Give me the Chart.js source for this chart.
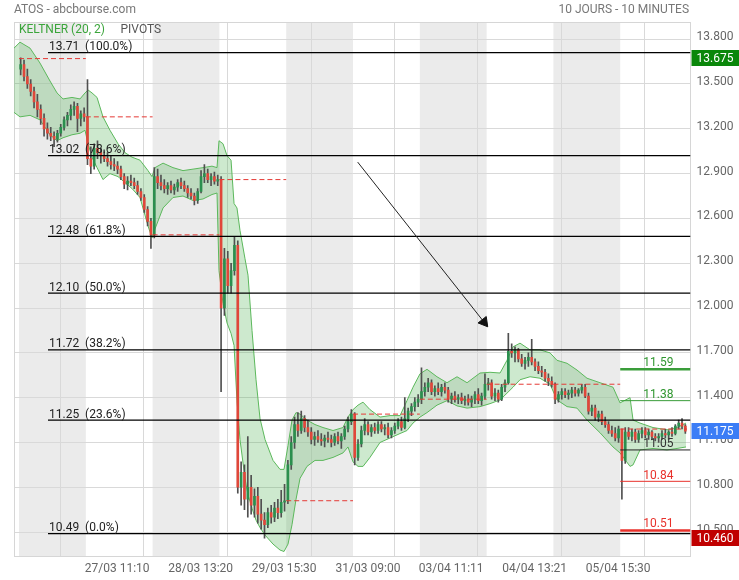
<!DOCTYPE html>
<html><head><meta charset="utf-8">
<script src="https://cdn.jsdelivr.net/npm/chart.js@4.4.1/dist/chart.umd.min.js"></script>
<style>html,body{margin:0;padding:0;background:#fff;}#c{display:block;}</style>
</head><body>
<canvas id="c" width="739" height="580"></canvas>
<script>
// ---------- DATA ----------
// 10 trading days, 20 candles per day
const dayLabels = ['24/03','27/03','28/03','29/03','30/03','31/03','03/04','04/04','05/04','06/04'];
const opens = [
13.60,13.63,13.55,13.50,13.45,13.38,13.33,13.27,13.20,13.17,13.15,13.13,13.17,13.21,13.26,13.29,13.33,13.35,13.27,13.30,
13.28,13.00,12.95,13.07,13.04,13.02,13.00,12.98,12.96,12.95,12.93,12.88,12.83,12.85,12.84,12.82,12.78,12.74,12.66,12.58,
12.49,12.88,12.84,12.82,12.80,12.82,12.79,12.81,12.84,12.82,12.80,12.77,12.75,12.72,12.78,12.88,12.90,12.86,12.88,12.85,
12.86,12.00,12.33,12.15,12.25,12.42,10.80,10.90,10.72,10.80,10.68,10.74,10.62,10.58,10.55,10.63,10.60,10.66,10.63,10.70,
10.71,10.95,11.10,11.22,11.18,11.26,11.20,11.17,11.12,11.14,11.12,11.11,11.13,11.12,11.10,11.14,11.11,11.14,11.19,11.24,
11.29,11.00,11.09,11.18,11.22,11.17,11.20,11.18,11.22,11.19,11.20,11.15,11.18,11.21,11.24,11.20,11.26,11.31,11.34,11.37,
11.39,11.44,11.47,11.50,11.44,11.46,11.44,11.47,11.45,11.39,11.41,11.39,11.40,11.38,11.39,11.37,11.39,11.42,11.38,11.41,
11.49,11.50,11.41,11.43,11.39,11.47,11.50,11.71,11.70,11.72,11.66,11.63,11.65,11.67,11.64,11.61,11.58,11.57,11.53,11.51,
11.49,11.39,11.42,11.44,11.42,11.43,11.45,11.43,11.45,11.47,11.41,11.31,11.33,11.27,11.29,11.24,11.22,11.18,11.16,11.13,
11.19,10.98,11.17,11.14,11.17,11.12,11.16,11.18,11.15,11.17,11.14,11.13,11.14,11.16,11.15,11.17,11.16,11.21,11.23,11.21];
const highs = [
13.675,13.66,13.60,13.53,13.48,13.43,13.36,13.30,13.24,13.21,13.18,13.19,13.23,13.28,13.31,13.36,13.38,13.37,13.32,13.34,
13.53,13.08,13.10,13.12,13.07,13.06,13.04,13.02,13.00,12.98,12.95,12.90,12.88,12.89,12.87,12.85,12.80,12.76,12.68,12.60,
12.94,12.93,12.89,12.86,12.84,12.85,12.83,12.86,12.87,12.85,12.82,12.80,12.77,12.80,12.92,12.96,12.93,12.90,12.91,12.89,
12.88,12.40,12.38,12.30,12.48,12.45,10.97,10.95,11.14,10.88,10.79,10.80,10.72,10.63,10.66,10.68,10.70,10.72,10.78,10.82,
10.98,11.14,11.27,11.30,11.31,11.28,11.25,11.20,11.17,11.18,11.16,11.15,11.17,11.15,11.16,11.17,11.16,11.21,11.27,11.32,
11.30,11.12,11.21,11.26,11.24,11.22,11.23,11.24,11.24,11.22,11.23,11.20,11.23,11.26,11.27,11.40,11.33,11.36,11.40,11.42,
11.60,11.50,11.53,11.52,11.48,11.50,11.49,11.50,11.47,11.43,11.44,11.42,11.43,11.41,11.42,11.41,11.44,11.46,11.43,11.56,
11.53,11.52,11.46,11.45,11.49,11.52,11.83,11.76,11.74,11.73,11.69,11.67,11.70,11.79,11.66,11.64,11.61,11.59,11.56,11.54,
11.50,11.44,11.46,11.46,11.45,11.47,11.47,11.46,11.49,11.49,11.43,11.35,11.35,11.31,11.31,11.27,11.24,11.21,11.20,11.21,
11.19,11.20,11.20,11.19,11.19,11.18,11.20,11.20,11.19,11.18,11.16,11.16,11.18,11.19,11.18,11.20,11.22,11.25,11.26,11.22];
const lows = [
13.56,13.52,13.47,13.42,13.34,13.28,13.23,13.15,13.13,13.12,13.08,13.11,13.15,13.19,13.22,13.26,13.29,13.18,13.22,13.25,
12.96,12.90,12.93,13.00,12.97,12.98,12.95,12.93,12.92,12.90,12.86,12.80,12.79,12.82,12.80,12.76,12.72,12.64,12.55,12.40,
12.47,12.80,12.79,12.77,12.76,12.77,12.76,12.78,12.80,12.78,12.74,12.73,12.69,12.70,12.77,12.84,12.84,12.82,12.83,12.82,
11.44,11.95,12.10,12.10,12.22,10.76,10.68,10.65,10.60,10.62,10.60,10.56,10.52,10.46,10.53,10.56,10.57,10.59,10.60,10.64,
10.69,10.92,11.06,11.14,11.16,11.17,11.14,11.09,11.08,11.10,11.08,11.07,11.10,11.07,11.08,11.09,11.06,11.12,11.17,11.22,
10.95,10.98,11.07,11.15,11.15,11.14,11.16,11.16,11.17,11.15,11.13,11.13,11.16,11.19,11.18,11.19,11.24,11.28,11.31,11.34,
11.36,11.41,11.44,11.42,11.41,11.42,11.41,11.43,11.37,11.36,11.37,11.36,11.36,11.35,11.35,11.34,11.36,11.36,11.35,11.39,
11.45,11.39,11.38,11.37,11.38,11.44,11.49,11.67,11.64,11.64,11.61,11.59,11.61,11.62,11.58,11.56,11.54,11.51,11.48,11.47,
11.36,11.37,11.39,11.40,11.39,11.40,11.41,11.41,11.43,11.40,11.29,11.28,11.25,11.24,11.22,11.20,11.16,11.14,11.11,11.10,
10.72,10.96,11.12,11.11,11.10,11.10,11.13,11.13,11.12,11.12,11.11,11.10,11.12,11.13,11.12,11.14,11.15,11.19,11.19,11.16];
const closes = [
13.63,13.55,13.50,13.45,13.38,13.33,13.27,13.20,13.17,13.15,13.13,13.17,13.21,13.26,13.29,13.33,13.35,13.27,13.30,13.28,
13.00,12.95,13.07,13.04,13.02,13.00,12.98,12.96,12.95,12.93,12.88,12.83,12.85,12.84,12.82,12.78,12.74,12.66,12.58,12.49,
12.88,12.84,12.82,12.80,12.82,12.79,12.81,12.84,12.82,12.80,12.77,12.75,12.72,12.78,12.88,12.90,12.86,12.88,12.85,12.86,
12.00,12.33,12.15,12.25,12.42,10.80,10.90,10.72,10.80,10.68,10.74,10.62,10.58,10.55,10.63,10.60,10.66,10.63,10.70,10.71,
10.95,11.10,11.22,11.18,11.26,11.20,11.17,11.12,11.14,11.12,11.11,11.13,11.12,11.10,11.14,11.11,11.14,11.19,11.24,11.29,
11.00,11.09,11.18,11.22,11.17,11.20,11.18,11.22,11.19,11.20,11.15,11.18,11.21,11.24,11.20,11.26,11.31,11.34,11.37,11.39,
11.44,11.47,11.50,11.44,11.46,11.44,11.47,11.45,11.39,11.41,11.39,11.40,11.38,11.39,11.37,11.39,11.42,11.38,11.41,11.49,
11.50,11.41,11.43,11.39,11.47,11.50,11.71,11.70,11.72,11.66,11.63,11.65,11.67,11.64,11.61,11.58,11.57,11.53,11.51,11.49,
11.39,11.42,11.44,11.42,11.43,11.45,11.43,11.45,11.47,11.41,11.31,11.33,11.27,11.29,11.24,11.22,11.18,11.16,11.13,11.19,
10.98,11.17,11.14,11.17,11.12,11.16,11.18,11.15,11.17,11.14,11.13,11.14,11.16,11.15,11.17,11.16,11.21,11.23,11.21,11.175];

// Keltner (20,2) channel, time in trading days
const keltX = [-0.075,0.015,0.165,0.314,0.464,0.569,0.659,0.793,0.913,0.988,1.033,1.093,1.168,1.257,1.362,1.482,1.587,1.692,1.811,1.931,1.991,
2.036,2.156,2.305,2.455,2.605,2.754,2.889,2.964,2.994,3.054,3.114,3.174,3.219,3.263,3.308,3.383,3.428,3.488,3.548,3.608,3.683,3.802,3.907,3.967,
4.027,4.087,4.147,4.207,4.311,4.431,4.551,4.701,4.850,4.925,5.000,5.075,5.150,5.254,5.404,5.554,5.704,5.808,5.898,
6.003,6.108,6.257,6.407,6.557,6.707,6.901,7.051,7.201,7.305,7.395,7.500,7.650,7.799,7.949,
8.054,8.204,8.353,8.503,8.698,8.892,8.997,9.147,9.192,9.296,9.491,9.701,9.850,9.985];
const keltUpper = [13.74,13.78,13.74,13.64,13.52,13.44,13.40,13.41,13.40,13.44,13.46,13.44,13.41,13.28,13.19,13.10,13.04,13.01,12.99,12.92,12.88,
12.94,12.97,12.94,12.92,12.93,12.94,12.95,12.94,13.12,13.10,13.02,12.99,12.70,12.67,12.52,12.33,12.22,11.85,11.52,11.26,11.12,10.98,10.92,10.92,
11.08,11.25,11.30,11.29,11.25,11.22,11.20,11.18,11.20,11.27,11.32,11.35,11.37,11.32,11.27,11.28,11.28,11.38,11.47,
11.56,11.59,11.54,11.50,11.54,11.50,11.565,11.57,11.565,11.65,11.74,11.765,11.72,11.72,11.70,
11.65,11.63,11.585,11.53,11.50,11.47,11.365,11.40,11.25,11.23,11.20,11.185,11.20,11.23];
const keltLower = [13.31,13.28,13.29,13.26,13.16,13.12,13.14,13.16,13.17,13.19,13.10,13.01,12.94,12.86,12.90,12.88,12.84,12.80,12.74,12.55,12.47,
12.53,12.67,12.74,12.75,12.72,12.73,12.76,12.77,12.25,12.03,11.90,11.83,11.75,11.38,11.12,10.86,10.75,10.66,10.58,10.53,10.48,10.42,10.38,10.37,
10.42,10.55,10.72,10.86,10.94,10.98,10.98,11.00,11.03,11.07,10.97,10.94,10.94,11.00,11.10,11.13,11.16,11.18,11.23,
11.27,11.30,11.35,11.38,11.345,11.33,11.34,11.36,11.385,11.43,11.47,11.52,11.54,11.53,11.49,
11.385,11.34,11.33,11.25,11.165,11.07,11.03,10.94,10.95,11.05,11.06,11.05,11.06,11.07];

// previous-day close pivots (one per day)
const prevCloses = [13.67,13.28,12.49,12.86,10.71,11.29,11.39,11.49,11.49,11.19];
// Fibonacci retracement
const fibValues = [13.71,13.02,12.48,12.10,11.72,11.25,10.49];
const fibPct = ['100.0%','78.6%','61.8%','50.0%','38.2%','23.6%','0.0%'];
// pivots for last day
const lastPivots = [11.59,11.38,11.05,10.84,10.51];
// axis ticks
const yTicks = [10.5,10.8,11.1,11.4,11.7,12.0,12.3,12.6,12.9,13.2,13.5,13.8];
const xTickDays = [1.245,2.495,3.745,5.0,6.245,7.495,8.745];
const xTickLabels = ['27/03 11:10','28/03 13:20','29/03 15:30','31/03 09:00','03/04 11:11','04/04 13:21','05/04 15:30'];
// badges
const highValue = 13.675, lastValue = 11.175, lowValue = 10.460;
// trend arrow [day, price]
const arrowFrom = [5.070, 12.977];
const arrowTo = [6.961, 11.906];
const shadedDays = [0,2,4,6,8];

// ---------- STYLE / LAYOUT ----------
const PER_DAY = 20;
const X_MIN = -0.075, X_MAX = 10.052;
const FIB_START = 0.434;
const LASTPIV_START = 9.0, LASTPIV_LABEL = 9.57;
const UP = '#2b8f4e', DOWN = '#e0473a', WICK = '#505050';
const lastPivColors = ['#3a9d3a','#3a9d3a','#222','#e8312b','#e8312b'];
const lastPivWidths = [2.5,1,1,1,2.5];
const lastPivText = ['#2f962f','#2f962f','#333','#e8312b','#e8312b'];

Chart.defaults.font.family = 'Roboto, "Noto Sans", sans-serif';
Chart.defaults.font.size = 12;

const candleX = i => Math.floor(i / PER_DAY) + ((i % PER_DAY) + 0.5) / PER_DAY;
const wickData = highs.map((h, i) => ({x: candleX(i), y: [lows[i], h]}));
const bodyData = opens.map((o, i) => ({x: candleX(i), y: [o, closes[i]]}));
const bodyColors = opens.map((o, i) => closes[i] >= o ? UP : DOWN);

const pivotData = [];
prevCloses.forEach((p, d) => {
  pivotData.push({x: d, y: p}, {x: d + 1, y: p}, {x: d + 1, y: null});
});

const datasets = [
  {type:'line', data: keltX.map((x,i)=>({x, y: keltUpper[i]})), borderColor:'#5cb85c', borderWidth:1,
   pointRadius:0, fill:'+1', backgroundColor:'rgba(76,175,80,0.28)', order:50, tension:0},
  {type:'line', data: keltX.map((x,i)=>({x, y: keltLower[i]})), borderColor:'#5cb85c', borderWidth:1,
   pointRadius:0, fill:false, order:49, tension:0},
  {type:'bar', data: wickData, backgroundColor: WICK, barThickness:1, grouped:false, order:30},
  {type:'bar', data: bodyData, backgroundColor: bodyColors, barThickness:2, minBarLength:1, grouped:false, order:20},
  {type:'line', data: pivotData, borderColor:'#e53935', borderWidth:1, borderDash:[5,3], pointRadius:0, spanGaps:false, order:15},
];
fibValues.forEach(v => datasets.push({type:'line', data:[{x:FIB_START,y:v},{x:X_MAX,y:v}],
  borderColor:'#000', borderWidth:1.2, pointRadius:0, order:10}));
lastPivots.forEach((v,i) => datasets.push({type:'line', data:[{x:LASTPIV_START,y:v},{x:X_MAX,y:v}],
  borderColor:lastPivColors[i], borderWidth:lastPivWidths[i], pointRadius:0, order:9}));
datasets.push({type:'line', data:[{x:arrowFrom[0],y:arrowFrom[1]},{x:arrowTo[0],y:arrowTo[1]}],
  borderColor:'#222', borderWidth:1, pointRadius:[0,6], pointStyle:'triangle', rotation:[0,141.8],
  pointBackgroundColor:'#111', pointBorderColor:'#111', pointBorderWidth:1, order:5});

const bgPlugin = {
  id:'bg',
  beforeDraw(chart){
    const {ctx, chartArea:a, scales:{x}} = chart;
    ctx.save();
    ctx.fillStyle = '#ebebeb';
    shadedDays.forEach(d => {
      const x0 = Math.max(a.left, x.getPixelForValue(d));
      const x1 = Math.min(a.right, x.getPixelForValue(d + 1));
      ctx.fillRect(x0, a.top, x1 - x0, a.bottom - a.top);
    });
    ctx.restore();
  },
  beforeDatasetsDraw(chart){
    const {ctx, chartArea:a} = chart;
    ctx.save();
    ctx.strokeStyle = '#d6d6d6'; ctx.lineWidth = 1;
    ctx.strokeRect(Math.round(a.left)+0.5, Math.round(a.top)+0.5, Math.round(a.right-a.left)-1, Math.round(a.bottom-a.top));
    ctx.restore();
  },
  afterDatasetsDraw(chart){
    const {ctx, scales:{x, y}} = chart;
    ctx.save();
    ctx.font = '12px Roboto, sans-serif';
    ctx.textBaseline = 'alphabetic';
    ctx.textAlign = 'left';
    ctx.fillStyle = '#222';
    fibValues.forEach((v,i) => {
      ctx.fillText(v.toFixed(2) + '  (' + fibPct[i] + ')', x.getPixelForValue(FIB_START) + 1, y.getPixelForValue(v) - 2.5);
    });
    ctx.textAlign = 'center';
    lastPivots.forEach((v,i) => {
      ctx.fillStyle = lastPivText[i];
      ctx.fillText(v.toFixed(2), x.getPixelForValue(LASTPIV_LABEL), y.getPixelForValue(v) - (lastPivWidths[i] > 1 ? 3.5 : 2.5));
    });
    ctx.restore();
  },
  afterDraw(chart){
    const {ctx, scales:{y}, chartArea:a} = chart;
    ctx.save();
    ctx.font = '12px Roboto, sans-serif';
    ctx.textBaseline = 'alphabetic';
    ctx.fillStyle = '#777';
    ctx.textAlign = 'left';
    ctx.fillText('ATOS - abcbourse.com', 14, 13);
    ctx.textAlign = 'right';
    ctx.fillText('10 JOURS - 10 MINUTES', 689, 13);
    ctx.textAlign = 'left';
    ctx.fillStyle = '#3ba53b';
    ctx.fillText('KELTNER (20, 2)', 19, 33);
    ctx.fillStyle = '#555';
    ctx.fillText('PIVOTS', 120.5, 33);
    // badges
    [[highValue,'#0a870a'],[lastValue,'#3b7df6'],[lowValue,'#c00000']].forEach(([v,c]) => {
      const py = y.getPixelForValue(v);
      ctx.fillStyle = c;
      ctx.fillRect(a.right + 1, Math.round(py) - 8, 48, 16);
      ctx.fillStyle = '#fff';
      ctx.textBaseline = 'middle';
      ctx.fillText(v.toFixed(3), a.right + 6, Math.round(py) + 0.5);
    });
    ctx.restore();
  }
};

new Chart(document.getElementById('c'), {
  type:'bar',
  data:{datasets},
  options:{
    responsive:false, animation:false, devicePixelRatio:1,
    layout:{padding:{left:14, top:22, right:0, bottom:0}},
    plugins:{legend:{display:false}, tooltip:{enabled:false}, title:{display:false}},
    scales:{
      x:{type:'linear', min:X_MIN, max:X_MAX, offset:false,
         afterBuildTicks: s => { s.ticks = xTickDays.map(v => ({value:v})); },
         afterFit: s => { s.height = 24; },
         grid:{color:'#d9d9d9', drawTicks:false, lineWidth:1},
         border:{display:false},
         ticks:{callback:(v,i)=>xTickLabels[i], color:'#666', padding:6, labelOffset:15, autoSkip:false, maxRotation:0, font:{size:12}}},
      y:{type:'linear', position:'right', min:10.340, max:13.915,
         afterBuildTicks: s => { s.ticks = yTicks.map(v => ({value:v})); },
         afterFit: s => { s.width = 48.5; },
         grid:{color:'#d9d9d9', drawTicks:false, lineWidth:1},
         border:{display:false},
         ticks:{callback:v=>Number(v).toFixed(3), color:'#666', padding:6, labelOffset:-2, font:{size:12}}}
    }
  },
  plugins:[bgPlugin]
});
</script>
</body></html>
